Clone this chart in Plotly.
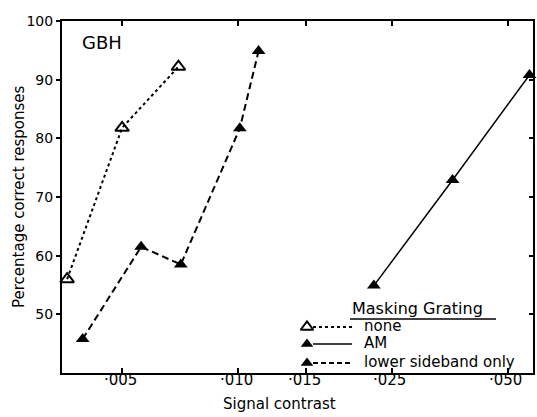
import math
import plotly.graph_objects as go

# ---- data ----
none_x = [0.0036, 0.0050, 0.0070]
none_y = [56.0, 81.8, 92.2]

am_x = [0.0225, 0.036, 0.057]
am_y = [54.9, 72.9, 90.8]

lsb_x = [0.00395, 0.0056, 0.0071, 0.0101, 0.0113]
lsb_y = [45.8, 61.5, 58.5, 81.7, 94.9]

x_tickvals = [0.005, 0.010, 0.015, 0.025, 0.050]
x_ticktext = ["·005", "·010", "·015", "·025", "·050"]
y_tickvals = [50, 60, 70, 80, 90, 100]
y_ticktext = ["50", "60", "70", "80", "90", "100"]

legend_title = "Masking Grating"
legend_names = ["none", "AM", "lower sideband only"]

# ---- layout geometry ----
FW, FH = 537, 417
L, R, T, B = 62, 4, 21, 44
W, H = FW - L - R, FH - T - B
FONT = "DejaVu Sans"
MS = 12


def P(px, py):
    return (px - L) / W, (T + H - py) / H


fig = go.Figure()

fig.add_trace(go.Scatter(
    x=none_x, y=none_y, mode="lines+markers", name=legend_names[0],
    line=dict(color="black", width=2, dash="dot"),
    marker=dict(symbol="triangle-up-open", size=MS, color="black", line=dict(width=2)),
    cliponaxis=False, showlegend=False))
fig.add_trace(go.Scatter(
    x=am_x, y=am_y, mode="lines+markers", name=legend_names[1],
    line=dict(color="black", width=1.5),
    marker=dict(symbol="triangle-up", size=MS, color="black"),
    cliponaxis=False, showlegend=False))
fig.add_trace(go.Scatter(
    x=lsb_x, y=lsb_y, mode="lines+markers", name=legend_names[2],
    line=dict(color="black", width=2, dash="7px,4px"),
    marker=dict(symbol="triangle-up", size=MS, color="black"),
    cliponaxis=False, showlegend=False))

# empty trace so the right-hand tick axis is rendered
fig.add_trace(go.Scatter(x=[], y=[], yaxis="y3", showlegend=False, hoverinfo="skip"))

# legend keys drawn on a pixel-mapped helper axis
key_styles = [
    (dict(color="black", width=2, dash="3px,3px"), "triangle-up-open", 327),
    (dict(color="black", width=1.5), "triangle-up", 344),
    (dict(color="black", width=2, dash="5px,3px"), "triangle-up", 363),
]
for (ln, sym, ky), nm in zip(key_styles, legend_names):
    fig.add_trace(go.Scatter(
        x=[313, 352], y=[ky, ky], xaxis="x2", yaxis="y2", mode="lines",
        line=ln, showlegend=False, hoverinfo="skip", cliponaxis=False))
    fig.add_trace(go.Scatter(
        x=[307], y=[ky], xaxis="x2", yaxis="y2", mode="markers",
        marker=dict(symbol=sym, size=MS - 1, color="black",
                    line=dict(width=2 if "open" in sym else 0, color="black")),
        showlegend=False, hoverinfo="skip", cliponaxis=False))

annotations = []
# x tick labels placed close under the axis, as in the reference
_, ty = P(0, 380)
for v, t in zip(x_tickvals, x_ticktext):
    annotations.append(dict(x=math.log10(v), y=ty, xref="x", yref="paper", text=t,
                            showarrow=False, xanchor="center", yanchor="middle",
                            xshift=-2,
                            font=dict(family=FONT, size=15, color="black")))
for nm, ky in zip(legend_names, [326, 343, 362]):
    x, y = P(362, ky)
    annotations.append(dict(x=x, y=y, xref="paper", yref="paper", text=nm,
                            showarrow=False, xanchor="left", yanchor="middle",
                            font=dict(family=FONT, size=15, color="black")))
x, y = P(350, 308)
annotations.append(dict(x=x, y=y, xref="paper", yref="paper", text=legend_title,
                        showarrow=False, xanchor="left", yanchor="middle",
                        font=dict(family=FONT, size=16, color="black")))
x, y = P(80, 42)
annotations.append(dict(x=x, y=y, xref="paper", yref="paper", text="GBH",
                        showarrow=False, xanchor="left", yanchor="middle",
                        font=dict(family=FONT, size=18, color="black")))
x, y = P(279, 404)
annotations.append(dict(x=x, y=y, xref="paper", yref="paper", text="Signal contrast",
                        showarrow=False, xanchor="center", yanchor="middle",
                        font=dict(family=FONT, size=15, color="black")))
x, y = P(19, 197)
annotations.append(dict(x=x, y=y, xref="paper", yref="paper",
                        text="Percentage correct responses", textangle=-90,
                        showarrow=False, xanchor="center", yanchor="middle",
                        font=dict(family=FONT, size=15, color="black")))

ux0, uy = P(350, 319)
ux1, _ = P(496, 319)
shapes = [dict(type="line", xref="paper", yref="paper", x0=ux0, x1=ux1, y0=uy, y1=uy,
               line=dict(color="black", width=1.5))]

fig.update_layout(
    width=FW, height=FH,
    margin=dict(l=L, r=R, t=T, b=B, autoexpand=False),
    paper_bgcolor="white", plot_bgcolor="white",
    font=dict(family=FONT, color="black"),
    showlegend=False,
    xaxis=dict(type="log", range=[-2.457, -1.235], tickvals=x_tickvals, ticktext=x_ticktext,
               showticklabels=False,
               ticks="inside", ticklen=5, tickwidth=1.5, tickcolor="black",
               showline=True, linewidth=2, linecolor="black", mirror="ticks",
               showgrid=False, zeroline=False, automargin=False),
    yaxis=dict(range=[40, 100], tickvals=y_tickvals, ticktext=y_ticktext,
               ticks="outside", ticklen=4, tickwidth=1.5, tickcolor="black",
               showline=True, linewidth=2, linecolor="black", mirror=True,
               showgrid=False, zeroline=False, automargin=False,
               tickfont=dict(size=14, family=FONT)),
    yaxis3=dict(range=[40, 100], tickvals=y_tickvals[:-1], overlaying="y", side="right",
                anchor="x", ticks="inside", ticklen=4, tickwidth=1.5, tickcolor="black",
                showticklabels=False, showline=False, showgrid=False, zeroline=False,
                automargin=False),
    xaxis2=dict(range=[L, L + W], overlaying="x", visible=False, anchor="y2", automargin=False),
    yaxis2=dict(range=[T + H, T], overlaying="y", visible=False, anchor="x2", automargin=False),
    annotations=annotations,
    shapes=shapes,
)

fig.write_html("out.html", config={"displayModeBar": False},
               post_script="document.body.style.margin='0';document.body.style.overflow='hidden';")
